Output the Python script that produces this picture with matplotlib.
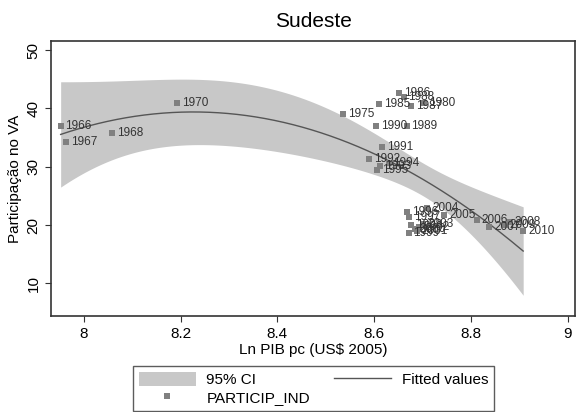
import numpy as np
import matplotlib
matplotlib.use("Agg")
import matplotlib.pyplot as plt
from matplotlib.patches import Patch
from matplotlib.lines import Line2D

plt.rcParams['font.family'] = ['Liberation Sans', 'DejaVu Sans']

# dados (ano, ln PIB pc, participação da indústria no VA)
anos = [1966, 1967, 1968, 1970, 1975, 1980, 1985, 1986, 1987, 1988, 1989, 1990,
        1991, 1992, 1993, 1994, 1995, 1996, 1997, 1998, 1999, 2000, 2001, 2002,
        2003, 2004, 2005, 2006, 2007, 2008, 2009, 2010]
ln_pib = [7.952, 7.964, 8.059, 8.193, 8.535, 8.704, 8.611, 8.652, 8.677, 8.661,
          8.667, 8.604, 8.617, 8.589, 8.612, 8.630, 8.606, 8.668, 8.672, 8.676,
          8.671, 8.684, 8.688, 8.692, 8.700, 8.710, 8.745, 8.812, 8.838, 8.880,
          8.870, 8.908]
particip = [37.0, 34.3, 35.8, 40.9, 39.0, 40.9, 40.7, 42.7, 40.4, 42.0,
            36.9, 36.9, 33.4, 31.4, 30.2, 30.6, 29.5, 22.3, 21.3, 20.0,
            18.7, 19.3, 18.9, 19.6, 20.2, 23.0, 21.8, 20.9, 19.7, 20.6,
            20.0, 19.0]

x = np.array(ln_pib)
y = np.array(particip)

# ajuste quadrático com IC de 95% (como qfitci do Stata)
X = np.column_stack([np.ones_like(x), x, x ** 2])
beta, _, _, _ = np.linalg.lstsq(X, y, rcond=None)
resid = y - X @ beta
n = len(x)
s2 = resid @ resid / (n - 3)
XtX_inv = np.linalg.inv(X.T @ X)
t_crit = 2.04

xs = np.linspace(x.min(), x.max(), 200)
Xs = np.column_stack([np.ones_like(xs), xs, xs ** 2])
fit = Xs @ beta
se = np.sqrt(s2 * np.einsum('ij,jk,ik->i', Xs, XtX_inv, Xs))
lo = fit - t_crit * se
hi = fit + t_crit * se

fig = plt.figure(figsize=(5.76, 4.12), dpi=100)
ax = fig.add_axes([0.0885, 0.2323, 0.9105, 0.6689])

ax.fill_between(xs, lo, hi, color='#c8c8c8', linewidth=0)
ax.plot(xs, fit, color='#555555', linewidth=1.0)
ax.plot(x, y, 's', color='#808080', markersize=5, markeredgewidth=0)
for a, xi, yi in zip(anos, x, y):
    ax.annotate(str(a), (xi, yi), xytext=(3.5, 0), textcoords='offset points',
                va='center', ha='left', fontsize=8.5, color='#333333')

ax.set_xlim(7.932, 9.016)
ax.set_ylim(4.36, 51.6)
ax.set_xticks([8, 8.2, 8.4, 8.6, 8.8, 9])
ax.set_xticklabels(['8', '8.2', '8.4', '8.6', '8.8', '9'])
ax.set_yticks([10, 20, 30, 40, 50])
ax.tick_params(axis='both', labelsize=11, length=4, width=0.8, color='#333333')
for lab in ax.get_yticklabels():
    lab.set_rotation(90)
    lab.set_va('center')
for sp in ax.spines.values():
    sp.set_color('#333333')
    sp.set_linewidth(1.2)

ax.set_xlabel('Ln PIB pc (US$ 2005)', fontsize=11, labelpad=2)
ax.set_ylabel('Participação no VA', fontsize=11, labelpad=3)
ax.set_title('Sudeste', fontsize=15, pad=10)

handles = [Patch(facecolor='#c8c8c8', edgecolor='none'),
           Line2D([], [], marker='s', linestyle='none', color='#808080',
                  markersize=5, markeredgewidth=0),
           Line2D([], [], color='#555555', linewidth=1.0)]
labels = ['95% CI', 'PARTICIP_IND', 'Fitted values']
leg = fig.legend(handles, labels, ncol=2, loc='upper left',
                 bbox_to_anchor=(0.231, 0.112), borderaxespad=0,
                 fontsize=11, frameon=True,
                 fancybox=False, edgecolor='#333333', handlelength=3.7,
                 handleheight=1.0, borderpad=0.4, labelspacing=0.2,
                 columnspacing=1.6, handletextpad=0.7)
leg.get_frame().set_linewidth(1.0)

fig.savefig('out.png', dpi=100)
